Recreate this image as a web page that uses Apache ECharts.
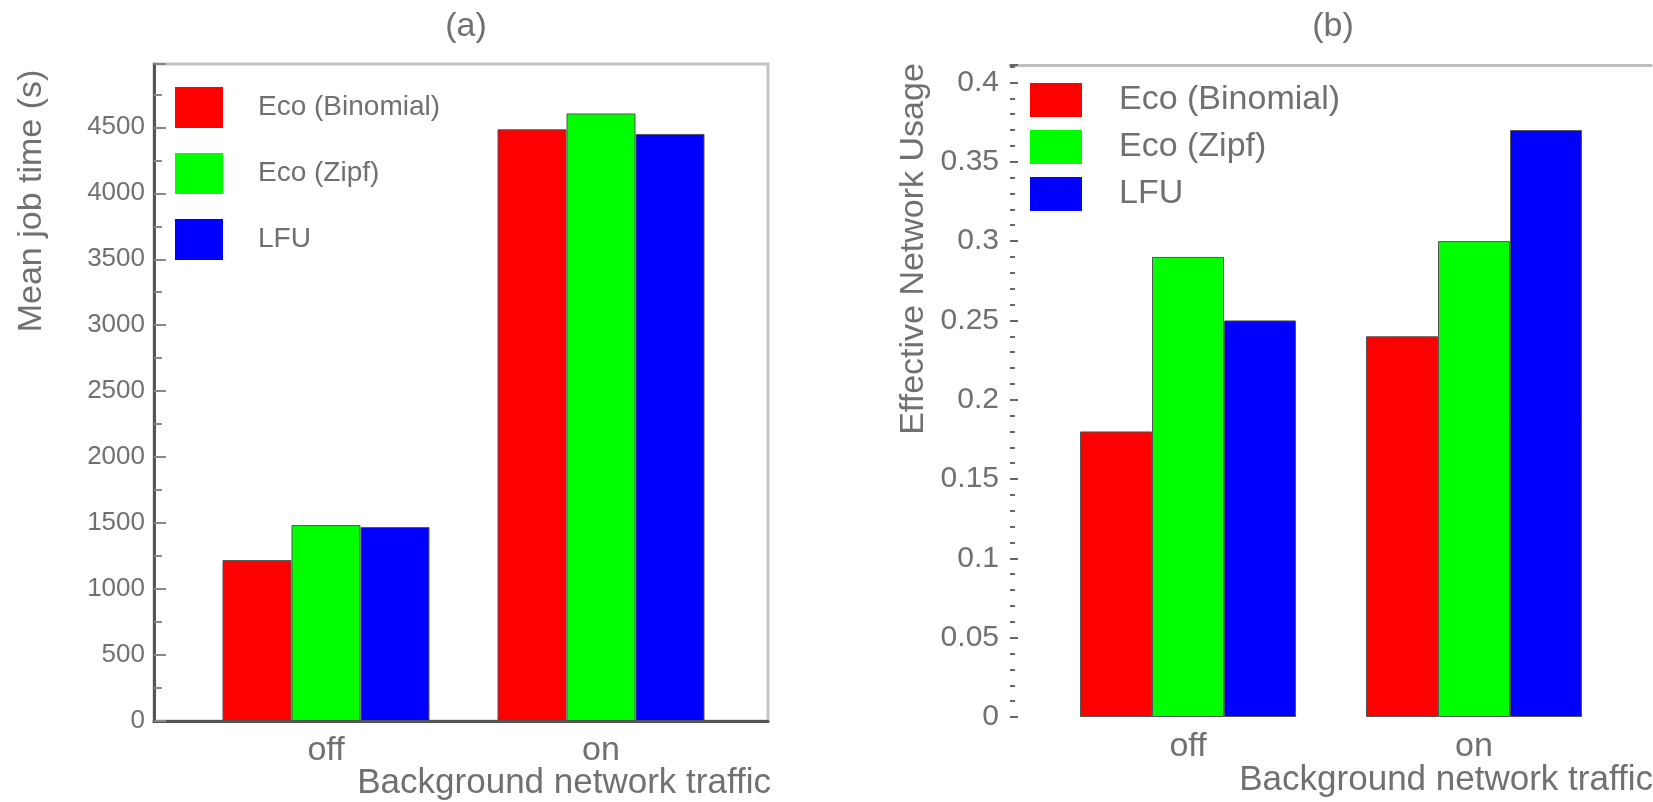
<!DOCTYPE html>
<html>
<head>
<meta charset="utf-8">
<script src="https://cdn.jsdelivr.net/npm/echarts@6/dist/echarts.min.js"></script>
<style>
  html, body { margin: 0; padding: 0; background: #fff; }
  #chart { width: 1653px; height: 802px; }
</style>
</head>
<body>
<div id="chart"></div>
<script>
// data
var categories = ['off', 'on'];
var seriesNames = ['Eco (Binomial)', 'Eco (Zipf)', 'LFU'];
var seriesColors = ['#ff0000', '#00ff00', '#0000ff'];

// (a) mean job time in seconds
var jobTimeBinomial = [1220, 4485];
var jobTimeZipf = [1485, 4605];
var jobTimeLFU = [1470, 4450];

// (b) effective network usage
var usageBinomial = [0.18, 0.24];
var usageZipf = [0.29, 0.30];
var usageLFU = [0.25, 0.37];

var FONT = 'Liberation Sans';
var NARROW = "'Liberation Sans Narrow', 'Liberation Sans'";
var TXT = '#707070';

var chart = echarts.init(document.getElementById('chart'));

function barSeries(name, color, data, axisIdx, width) {
    return {
        name: name,
        type: 'bar',
        xAxisIndex: axisIdx,
        yAxisIndex: axisIdx,
        barWidth: width,
        barGap: '0%',
        itemStyle: { color: color, borderColor: '#555', borderWidth: 1 },
        emphasis: { disabled: true },
        data: data
    };
}

var option = {
    animation: false,
    textStyle: { fontFamily: FONT },
    grid: [
        // (a) frame
        { left: 154, top: 64, width: 614, height: 657, show: true, borderColor: '#c4c4c4', borderWidth: 3 },
        // (a) bars
        { left: 188.5, top: 64, width: 550, height: 657 },
        // (b) frame
        { left: 1010, top: 65, width: 641, height: 652 },
        // (b) bars
        { left: 1045, top: 65, width: 572, height: 652 }
    ],
    xAxis: [
        {
            gridIndex: 0, type: 'value', min: 0, max: 1,
            axisLine: { show: true, onZero: false, lineStyle: { color: '#555', width: 3 } },
            axisTick: { show: false }, axisLabel: { show: false }, splitLine: { show: false }
        },
        {
            gridIndex: 1, type: 'category', data: categories,
            axisLine: { show: false }, axisTick: { show: false },
            axisLabel: { fontSize: 34, color: TXT, margin: 13, fontFamily: FONT }
        },
        {
            gridIndex: 2, type: 'value', min: 0, max: 1, position: 'top',
            axisLine: { show: true, onZero: false, lineStyle: { color: '#bdbdbd', width: 3 } },
            axisTick: { show: false }, axisLabel: { show: false }, splitLine: { show: false }
        },
        {
            gridIndex: 3, type: 'category', data: categories,
            axisLine: { show: false }, axisTick: { show: false },
            axisLabel: { fontSize: 34, color: TXT, margin: 13, fontFamily: FONT }
        }
    ],
    yAxis: [
        {
            gridIndex: 0, type: 'value', min: 0, max: 4980, interval: 500,
            axisLine: { show: true, lineStyle: { color: '#555', width: 3 } },
            axisTick: { show: true, inside: true, length: 12, lineStyle: { color: '#888', width: 2 } },
            minorTick: { show: true, splitNumber: 2, length: 8, lineStyle: { color: '#888', width: 2 } },
            axisLabel: {
                fontSize: 26, color: TXT, margin: 9, showMaxLabel: false, fontFamily: NARROW,
                formatter: function (v) { return String(v); }
            },
            splitLine: { show: false }
        },
        {
            gridIndex: 1, type: 'value', min: 0, max: 4980, show: false
        },
        {
            gridIndex: 2, type: 'value', min: 0, max: 0.411, interval: 0.05,
            axisLine: { show: false },
            axisTick: { show: true, inside: true, length: 8, lineStyle: { color: '#666', width: 2 } },
            minorTick: { show: true, splitNumber: 5, length: 5, lineStyle: { color: '#666', width: 2 } },
            axisLabel: { fontSize: 30, color: TXT, margin: 11, showMaxLabel: false, fontFamily: FONT },
            splitLine: { show: false }
        },
        {
            gridIndex: 3, type: 'value', min: 0, max: 0.411, show: false
        }
    ],
    legend: [
        {
            data: seriesNames, orient: 'vertical', left: 175, top: 87, padding: 0,
            itemWidth: 48, itemHeight: 41, itemGap: 25, icon: 'rect',
            selectedMode: false,
            itemStyle: { borderWidth: 0 },
            textStyle: { fontSize: 28, color: TXT, padding: [0, 0, 0, 30], fontFamily: FONT }
        },
        {
            data: seriesNames, orient: 'vertical', left: 1030, top: 83, padding: 0,
            itemWidth: 52, itemHeight: 34, itemGap: 13, icon: 'rect',
            selectedMode: false,
            itemStyle: { borderWidth: 0 },
            textStyle: { fontSize: 34, lineHeight: 34, color: TXT, padding: [0, 0, 0, 32], fontFamily: FONT }
        }
    ],
    graphic: [
        { type: 'text', x: 466, y: 27, style: { text: '(a)', font: '34px ' + FONT, fill: TXT, align: 'center', verticalAlign: 'middle' } },
        { type: 'text', x: 1333, y: 27, style: { text: '(b)', font: '34px ' + FONT, fill: TXT, align: 'center', verticalAlign: 'middle' } },
        { type: 'text', x: 32, y: 201, rotation: Math.PI / 2, style: { text: 'Mean job time (s)', font: '34px ' + FONT, fill: TXT, align: 'center', verticalAlign: 'middle' } },
        { type: 'text', x: 914, y: 249, rotation: Math.PI / 2, style: { text: 'Effective Network Usage', font: '34px ' + FONT, fill: TXT, align: 'center', verticalAlign: 'middle' } },
        { type: 'text', x: 771, y: 783, style: { text: 'Background network traffic', font: '35px ' + FONT, fill: TXT, align: 'right', verticalAlign: 'middle' } },
        { type: 'text', x: 1653, y: 780, style: { text: 'Background network traffic', font: '35px ' + FONT, fill: TXT, align: 'right', verticalAlign: 'middle' } }
    ],
    series: [
        barSeries(seriesNames[0], seriesColors[0], jobTimeBinomial, 1, 69),
        barSeries(seriesNames[1], seriesColors[1], jobTimeZipf, 1, 69),
        barSeries(seriesNames[2], seriesColors[2], jobTimeLFU, 1, 69),
        barSeries(seriesNames[0], seriesColors[0], usageBinomial, 3, 72),
        barSeries(seriesNames[1], seriesColors[1], usageZipf, 3, 72),
        barSeries(seriesNames[2], seriesColors[2], usageLFU, 3, 72)
    ]
};

chart.setOption(option);
</script>
</body>
</html>
